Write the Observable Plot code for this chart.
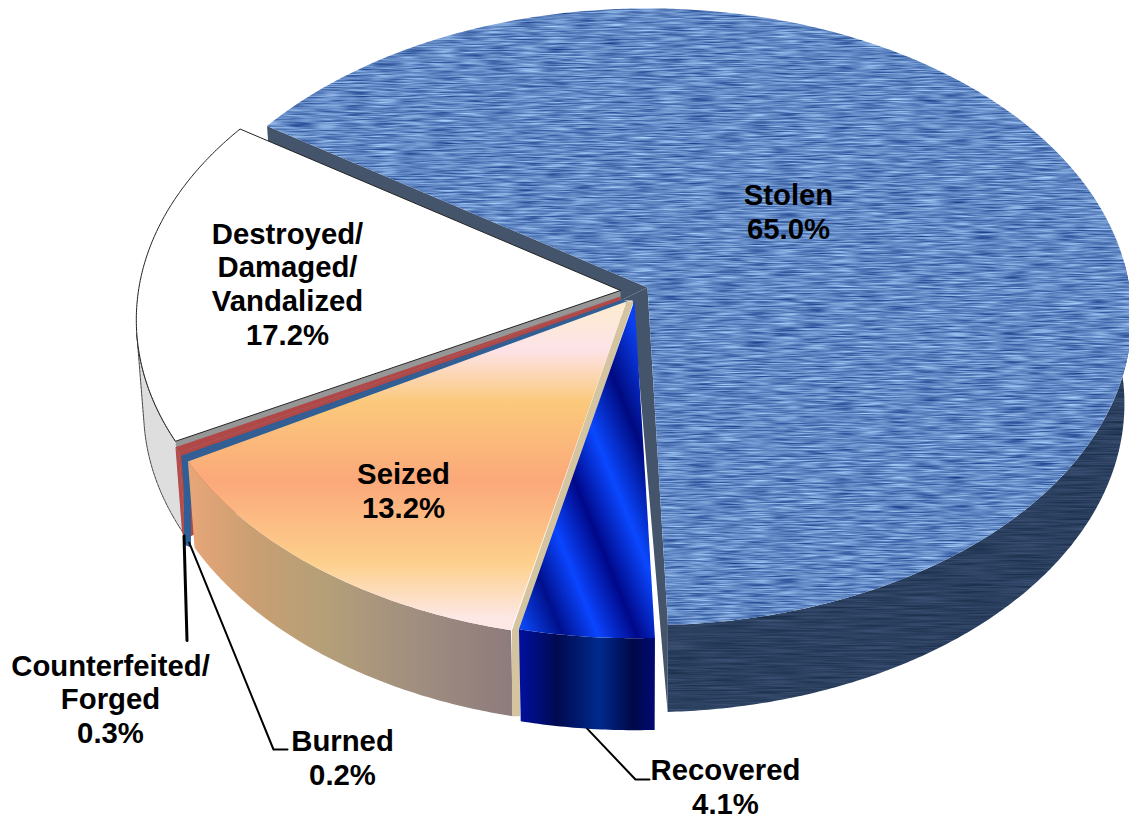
<!DOCTYPE html>
<html>
<head>
<meta charset="utf-8">
<style>html,body{margin:0;padding:0;background:#fff}svg{display:block}</style>
<script src="https://cdn.jsdelivr.net/npm/d3@7"></script>
<script src="https://cdn.jsdelivr.net/npm/@observablehq/plot@0.6"></script>
</head>
<body>
<div id="chart"></div>
<script>
// ---- data ----
const categories = ["Stolen", "Recovered", "Seized", "Burned", "Counterfeited", "Destroyed"];
const shares = [65.0, 4.1, 13.2, 0.2, 0.3, 17.2];
const labelTexts = ["Stolen\n65.0%", "Recovered\n4.1%", "Seized\n13.2%", "Burned\n0.2%", "Counterfeited/\nForged\n0.3%", "Destroyed/\nDamaged/\nVandalized\n17.2%"];

// ---- layout of the drawing ----
const W = 1129, H = 821;
const startAngle = -56.2;          // clockwise from the back of the pie
const R = 482, RY = 305.6, K = 0.095;   // pie radius, foreshortened radius, perspective
const apexX = [647, 634, 626, 622, 620, 620];
const apexY = [287, 300, 301, 299, 296, 290];
const depth = [87, 92, 86, 85, 86, 90];
const shrink = 0.985;
const labelX = [788, 725, 403, 342, 110, 287];
const labelY = [211, 786, 490, 757, 698, 283];
const rad = d => d * Math.PI / 180;

let cum = startAngle;
const slices = categories.map((name, i) => {
  const a0 = cum, a1 = cum + shares[i] * 3.6;
  cum = a1;
  return {name, i, a0, a1, ax: apexX[i], ay: apexY[i], d: depth[i]};
});
const [stolen, recovered, seized, burned, counterfeited, destroyed] = slices;

function rim(s, a, bottom = false) {
  const u = Math.sin(rad(a)), v = Math.cos(rad(a)), w = 1 + K * v;
  const f = bottom ? shrink : 1;
  return {x: s.ax + f * R * u / w, y: s.ay - RY * v / w + (bottom ? s.d : 0)};
}
function arc(s, a0, a1, bottom = false) {
  const n = Math.max(2, Math.ceil(Math.abs(a1 - a0) * 2));
  return d3.range(n + 1).map(k => rim(s, a0 + (a1 - a0) * k / n, bottom));
}
const topFace = s => [{x: s.ax, y: s.ay}, ...arc(s, s.a0, s.a1), {x: s.ax, y: s.ay}];
const outerWall = (s, a0 = s.a0, a1 = s.a1) => [...arc(s, a0, a1), ...arc(s, a1, a0, true)];
const poly = (rows, o) => Plot.line(rows, {x: "x", y: "y", curve: "linear", ...o});

// cut faces: from the top edge down to a lower apex
function cut(s, a, ...lower) {
  const t = rim(s, a), b = rim(s, a, true);
  return [{x: s.ax, y: s.ay}, t, b, ...lower.map(([dx, dy]) => ({x: s.ax + dx, y: s.ay + dy}))];
}
function cutBeige() {
  const t = rim(seized, seized.a0);
  return [{x: seized.ax, y: seized.ay}, {x: t.x + 1, y: t.y}, {x: t.x + 1, y: t.y + seized.d}, {x: t.x + 9, y: t.y + seized.d}, {x: t.x + 10, y: t.y}, {x: seized.ax + 7, y: seized.ay}];
}
function burnedEdge() {
  const t = rim(burned, burned.a0);
  return [{x: burned.ax, y: burned.ay}, t, {x: t.x, y: t.y + burned.d}, {x: t.x + 7, y: t.y + burned.d + 3}, {x: t.x + 7, y: t.y + 3}, {x: burned.ax + 7, y: burned.ay + 3}];
}

// ---- defs (gradients and textures) ----
const defs = `
<filter id="texTop" filterUnits="userSpaceOnUse" x="0" y="0" width="${W}" height="${H}" color-interpolation-filters="sRGB">
  <feTurbulence type="fractalNoise" baseFrequency="0.035 0.7" numOctaves="2" seed="4" result="n"/>
  <feColorMatrix in="n" type="matrix" values="0.75 0 0 0 0.01  0.75 0 0 0 0.16  0.58 0 0 0 0.48  0 0 0 0 1" result="c"/>
  <feComposite in="c" in2="SourceGraphic" operator="in"/>
</filter>
<filter id="texWall" filterUnits="userSpaceOnUse" x="0" y="0" width="${W}" height="${H}" color-interpolation-filters="sRGB">
  <feTurbulence type="fractalNoise" baseFrequency="0.02 0.6" numOctaves="2" seed="9" result="n"/>
  <feColorMatrix in="n" type="matrix" values="0.2 0 0 0 0.07  0.2 0 0 0 0.15  0.25 0 0 0 0.25  0 0 0 0 1" result="c"/>
  <feComposite in="c" in2="SourceGraphic" operator="in"/>
</filter>
<linearGradient id="seizedTop" gradientUnits="userSpaceOnUse" x1="0" y1="300" x2="0" y2="628">
  <stop offset="0" stop-color="#fdeccd"/><stop offset="0.15" stop-color="#fde3e8"/>
  <stop offset="0.31" stop-color="#fbc97b"/><stop offset="0.55" stop-color="#fba87a"/>
  <stop offset="0.8" stop-color="#fdd08c"/><stop offset="0.97" stop-color="#fde8e6"/>
</linearGradient>
<linearGradient id="seizedWall" gradientUnits="userSpaceOnUse" x1="188" y1="0" x2="515" y2="0">
  <stop offset="0" stop-color="#e8a678"/><stop offset="0.2" stop-color="#c99f72"/>
  <stop offset="0.42" stop-color="#b59f78"/><stop offset="0.7" stop-color="#a08e80"/>
  <stop offset="1" stop-color="#8d7a7c"/>
</linearGradient>
<linearGradient id="recTop" gradientUnits="userSpaceOnUse" x1="222.5" y1="-90.2" x2="445" y2="-180.5">
  <stop offset="0.0375" stop-color="#0a45f0"/><stop offset="0.175" stop-color="#00108c"/>
  <stop offset="0.3125" stop-color="#0a45ff"/><stop offset="0.4625" stop-color="#00088a"/>
  <stop offset="0.6125" stop-color="#0a48ff"/><stop offset="0.775" stop-color="#000a80"/>
  <stop offset="0.9375" stop-color="#0a40f0"/>
</linearGradient>
<linearGradient id="recWall" gradientUnits="userSpaceOnUse" x1="518" y1="0" x2="657" y2="0">
  <stop offset="0" stop-color="#0010a0"/><stop offset="0.28" stop-color="#000a50"/>
  <stop offset="0.58" stop-color="#002a8c"/><stop offset="0.82" stop-color="#000848"/>
  <stop offset="1" stop-color="#000a78"/>
</linearGradient>`;
const defsMark = () => {
  const g = document.createElementNS("http://www.w3.org/2000/svg", "defs");
  g.innerHTML = defs;
  return g;
};

const slate = "#44546a";
const marks = [
  defsMark,
  // Stolen
  poly(outerWall(stolen, 85, stolen.a1), {fill: "#2b4060", imageFilter: "url(#texWall)"}),
  poly(cut(stolen, stolen.a0, [-27, 13]), {fill: slate}),
  poly(cut(stolen, stolen.a1, [-15, 13], [-27, 13]), {fill: slate}),
  poly(topFace(stolen), {fill: "#5b85bb", imageFilter: "url(#texTop)"}),
  // Destroyed
  poly(outerWall(destroyed, destroyed.a0, 262), {fill: "#dedede", stroke: "#444", strokeWidth: 1, strokeDasharray: "3,1"}),
  poly(cut(destroyed, destroyed.a0, [0, 30]), {fill: "#969696"}),
  poly(topFace(destroyed), {fill: "#ffffff", stroke: "#222", strokeWidth: 1}),
  // Counterfeited
  poly(cut(counterfeited, counterfeited.a0, [0, 20]), {fill: "#b04848"}),
  poly(outerWall(counterfeited), {fill: "#b54d4d"}),
  poly(topFace(counterfeited), {fill: "#b04848"}),
  // Burned
  poly(outerWall(burned), {fill: "#2e5f96"}),
  poly(burnedEdge(), {fill: "#2e5f96"}),
  poly(topFace(burned), {fill: "#2e5f96"}),
  // Seized
  poly(outerWall(seized), {fill: "url(#seizedWall)"}),
  poly(cutBeige(), {fill: "#d4c4a0"}),
  poly(topFace(seized), {fill: "url(#seizedTop)"}),
  // Recovered
  poly(outerWall(recovered), {fill: "url(#recWall)"}),
  poly(topFace(recovered), {fill: "url(#recTop)"})
];

// leaders, from the lower rim of each thin slice to its label
const mid = s => (s.a0 + s.a1) / 2;
const leader = (s, pts, sw) => poly([rim(s, mid(s), true), ...pts], {stroke: "#000", strokeWidth: sw, fill: "none"});
marks.push(
  leader(counterfeited, [{x: rim(counterfeited, mid(counterfeited), true).x + 3, y: labelY[4] - 58}], 3),
  leader(burned, [{x: labelX[3] - 69, y: labelY[3] - 8}, {x: labelX[3] - 55, y: labelY[3] - 8}], 2),
  leader(recovered, [{x: labelX[1] - 90, y: labelY[1] - 7}, {x: labelX[1] - 76, y: labelY[1] - 7}], 2)
);

marks.push(Plot.text(labelTexts, {
  x: (d, i) => labelX[i], y: (d, i) => labelY[i], text: d => d,
  fontFamily: "Liberation Sans", fontWeight: "bold", fontSize: 29.3, lineHeight: 1.145, fill: "#000"
}));

const chart = Plot.plot({
  width: W, height: H, margin: 0,
  x: {domain: [0, W], range: [0, W], axis: null},
  y: {domain: [0, H], range: [0, H], axis: null},
  style: {background: "#fff", overflow: "hidden"},
  marks
});
document.getElementById("chart").append(chart);
</script>
</body>
</html>
